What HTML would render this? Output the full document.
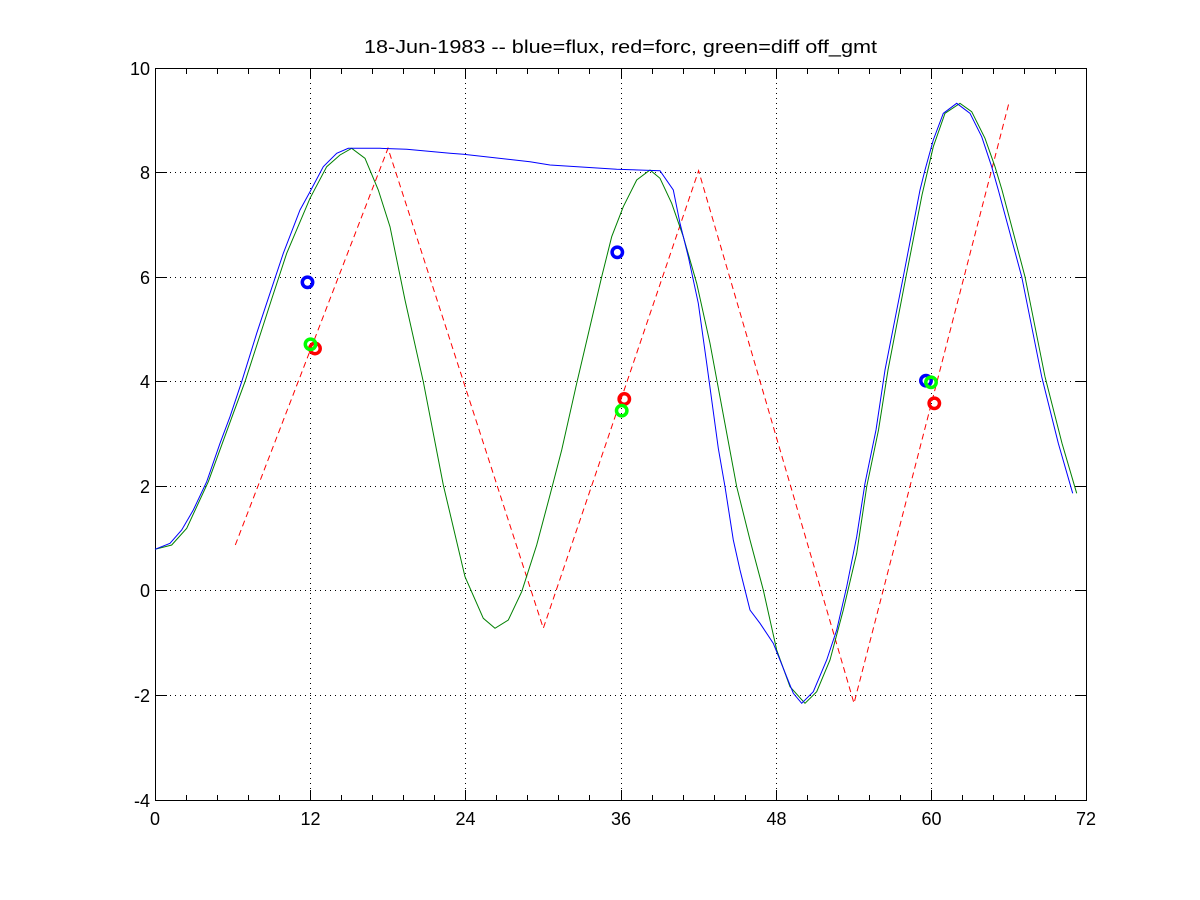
<!DOCTYPE html>
<html><head><meta charset="utf-8"><style>
html,body{margin:0;padding:0;background:#fff;}
svg{display:block;}
text{font-family:"Liberation Sans",Helvetica,Arial,sans-serif;fill:#000;}
</style></head><body>
<svg width="1200" height="900" viewBox="0 0 1200 900" xmlns="http://www.w3.org/2000/svg">
<rect width="1200" height="900" fill="#fff"/>
<!-- grid -->
<g stroke="#000" stroke-width="1" stroke-dasharray="1 4" shape-rendering="crispEdges" fill="none">
<path d="M155 172.5H1087M155 277.5H1087M155 381.5H1087M155 486.5H1087M155 590.5H1087M155 695.5H1087"/>
<path d="M310.5 68V800M465.5 68V800M621.5 68V800M776.5 68V800M931.5 68V800"/>
</g>
<!-- axes box -->
<g stroke="#000" stroke-width="1" fill="none" shape-rendering="crispEdges">
<rect x="155.5" y="68.5" width="931" height="732"/>
<path d="M186.5 800v-5M217.5 800v-5M248.5 800v-5M279.5 800v-5M341.5 800v-5M372.5 800v-5M403.5 800v-5M434.5 800v-5M496.5 800v-5M527.5 800v-5M558.5 800v-5M589.5 800v-5M652.5 800v-5M683.5 800v-5M714.5 800v-5M745.5 800v-5M807.5 800v-5M838.5 800v-5M869.5 800v-5M900.5 800v-5M962.5 800v-5M993.5 800v-5M1024.5 800v-5M1055.5 800v-5"/>
<path d="M186.5 69v5M217.5 69v5M248.5 69v5M279.5 69v5M341.5 69v5M372.5 69v5M403.5 69v5M434.5 69v5M496.5 69v5M527.5 69v5M558.5 69v5M589.5 69v5M652.5 69v5M683.5 69v5M714.5 69v5M745.5 69v5M807.5 69v5M838.5 69v5M869.5 69v5M900.5 69v5M962.5 69v5M993.5 69v5M1024.5 69v5M1055.5 69v5"/>
<path d="M310.5 800v-10M465.5 800v-10M621.5 800v-10M776.5 800v-10M931.5 800v-10"/>
<path d="M310.5 69v10M465.5 69v10M621.5 69v10M776.5 69v10M931.5 69v10"/>
<path d="M156 172.5h11M156 277.5h11M156 381.5h11M156 486.5h11M156 590.5h11M156 695.5h11"/>
<path d="M1086 172.5h-11M1086 277.5h-11M1086 381.5h-11M1086 486.5h-11M1086 590.5h-11M1086 695.5h-11"/>
</g>
<!-- red dashed forc -->
<polyline fill="none" stroke="#ff0000" stroke-width="1" stroke-dasharray="6 4" points="235.3,545 388,148.3 543.3,628.3 698.6,170.7 854,703.3 1009,102.7"/>
<!-- green diff line -->
<polyline fill="none" stroke="#008000" stroke-width="1" points="155,549.3 171.7,545 186.7,528.3 208.3,481.7 233.3,413.3 245,381.7 271.7,299 286.7,253.3 310,198.3 326.7,166.7 340,155 351.7,148.3 365,158.3 378.3,190 390,226.7 405,300 423.3,381.7 443.3,485 465,576.7 483.3,618.3 495,628.3 508.3,620 521.7,591.7 536.7,545 550,495 561.7,450 576.7,383.3 601.7,276.7 611.7,236.7 623.3,206.7 636.7,180 650,170 660,178.3 671.7,203.3 683.3,236.7 696.7,283.3 710,343.3 728,440 736.7,486.7 750,540 763.3,590 776.7,650 790,686.7 805,703.3 816.7,691.7 830,660 843.3,610 856.7,553.3 866.7,486.7 878.5,430 888,370 906,276.7 922,195 933.3,146.7 945,113.3 960,103.3 971.7,111.7 985,138.3 995,166.7 1002,190 1025,276.7 1045,376.7 1062,443.3 1076.7,493.3"/>
<!-- blue flux line -->
<polyline fill="none" stroke="#0000ff" stroke-width="1" points="155,549.3 170,543.3 181.7,530 193.3,510 206.7,481.7 220,443.3 230,416.7 241.7,381.7 256.7,333.3 268.3,298.3 283.3,253.3 300,210 310,191.7 323.3,166.7 336.7,153.3 348.3,148.3 380,148.3 406.7,149.3 450,153.3 463.3,154.3 530,161.7 550,165 616.7,169.3 660,170.7 673.3,190 680,223.3 688.3,256.7 698.3,303.3 706.7,363.3 718.3,448.3 725,486.7 733.3,540 740,570 750,610 760,623.3 773.3,643.3 783.3,668.3 793.3,693.3 801.7,703.3 813.3,691.7 826.7,660 836.7,630 846.7,586.7 856.7,536.7 865,483.3 876,430 885,370 903.3,276.7 920,190 925,170 933.3,140 943.3,113.3 956.7,103.3 970,113.3 981.7,136.7 991.7,166.7 998.3,190 1021.7,276.7 1041.7,376.7 1058.3,443.3 1072.7,493.3"/>
<!-- markers -->
<g fill="none" stroke-width="3.5">
<circle cx="307.5" cy="282.3" r="5.2" stroke="#0000ff"/>
<circle cx="617.3" cy="252.3" r="5.2" stroke="#0000ff"/>
<circle cx="926" cy="380.7" r="5.2" stroke="#0000ff"/>
<circle cx="315" cy="348.5" r="5.2" stroke="#ff0000"/>
<circle cx="624.3" cy="399" r="5.2" stroke="#ff0000"/>
<circle cx="934.3" cy="403.3" r="5.2" stroke="#ff0000"/>
<circle cx="310.5" cy="344.3" r="5.2" stroke="#00ff00"/>
<circle cx="621.7" cy="410.7" r="5.2" stroke="#00ff00"/>
<circle cx="931" cy="382.3" r="5.2" stroke="#00ff00"/>
</g>
<!-- title -->
<text x="364" y="53" font-size="18" textLength="513" lengthAdjust="spacingAndGlyphs">18-Jun-1983 -- blue=flux, red=forc, green=diff off_gmt</text>
<!-- x tick labels -->
<g font-size="18" text-anchor="middle">
<text x="155" y="825">0</text>
<text x="310.5" y="825">12</text>
<text x="465.5" y="825">24</text>
<text x="621" y="825">36</text>
<text x="776.5" y="825">48</text>
<text x="931.5" y="825">60</text>
<text x="1086" y="825">72</text>
</g>
<!-- y tick labels -->
<g font-size="18" text-anchor="end">
<text x="150" y="75">10</text>
<text x="150" y="179">8</text>
<text x="150" y="284">6</text>
<text x="150" y="388">4</text>
<text x="150" y="493">2</text>
<text x="150" y="597">0</text>
<text x="150" y="702">-2</text>
<text x="150" y="807">-4</text>
</g>
</svg>
</body></html>
